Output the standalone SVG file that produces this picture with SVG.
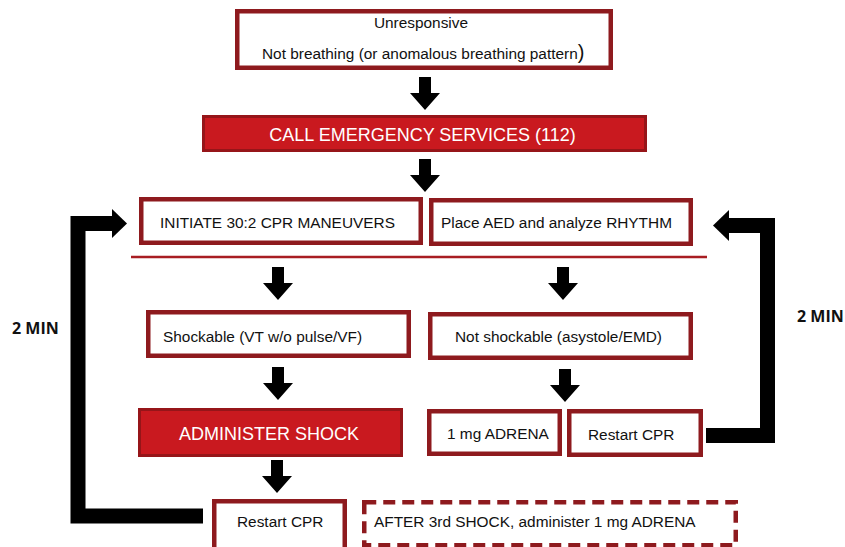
<svg xmlns="http://www.w3.org/2000/svg" width="845" height="547" viewBox="0 0 845 547">
<style>
.box{fill:#fff;stroke:#8e1a1e;stroke-width:4.5}
.dash{fill:#fff;stroke:#8e1a1e;stroke-width:4.5;stroke-dasharray:12 7}
.rbox{fill:#c9191f;stroke:#961519;stroke-width:3}
.t{font-family:"Liberation Sans",Arial,sans-serif;font-size:15.4px;fill:#111}
.tw{font-family:"Liberation Sans",Arial,sans-serif;font-size:18px;fill:#fff}
.min{font-family:"Open Sans","Liberation Sans",sans-serif;font-weight:700;font-size:16px;fill:#111}
.loop{fill:none;stroke:#000;stroke-width:15;stroke-linejoin:miter}
</style>
<defs>
<path id="dn" d="M-6,-33 H6 V-17 H15 L0,0 L-15,-17 H-6 Z" fill="#000"/>
</defs>
<rect width="845" height="547" fill="#fff"/>
<g id="connectors">
<use href="#dn" x="425" y="110"/>
<use href="#dn" x="425" y="192"/>
<use href="#dn" x="278" y="300"/>
<use href="#dn" x="563" y="300"/>
<use href="#dn" x="278" y="400"/>
<use href="#dn" x="565" y="402"/>
<use href="#dn" x="277" y="493"/>
<line x1="131" y1="257" x2="707" y2="257" stroke="#a81d22" stroke-width="2.5"/>
<path class="loop" d="M203,516 H78 V223.5 H113"/>
<polygon points="112,209 127,223.5 112,238" fill="#000"/>
<path class="loop" d="M706,435.5 H767.5 V225.5 H728"/>
<polygon points="729,210 713,225.5 729,241" fill="#000"/>
</g>
<g id="n-unresponsive">
<rect class="box" x="237.25" y="11.25" width="373.5" height="56.5"/>
<text class="t" x="421" y="28" text-anchor="middle">Unresponsive</text>
<text class="t" x="262" y="59">Not breathing (or anomalous breathing pattern<tspan font-size="20">)</tspan></text>
</g>
<g id="n-call">
<rect class="rbox" x="203.5" y="116.5" width="442" height="34"/>
<text class="tw" x="422.5" y="141" text-anchor="middle">CALL EMERGENCY SERVICES (112)</text>
</g>
<g id="n-initiate">
<rect class="box" x="141.25" y="199.25" width="279.5" height="43.5"/>
<text class="t" x="160" y="228">INITIATE 30:2 CPR MANEUVERS</text>
</g>
<g id="n-aed">
<rect class="box" x="431.25" y="200.25" width="259.5" height="43.5"/>
<text class="t" x="441" y="228">Place AED and analyze RHYTHM</text>
</g>
<g id="n-shockable">
<rect class="box" x="148.25" y="312.25" width="260.5" height="43.5"/>
<text class="t" x="163" y="342">Shockable (VT w/o pulse/VF)</text>
</g>
<g id="n-notshockable">
<rect class="box" x="430.25" y="314.25" width="260.5" height="43.5"/>
<text class="t" x="455" y="342">Not shockable (asystole/EMD)</text>
</g>
<g id="n-shock">
<rect class="rbox" x="139.5" y="409.5" width="262" height="46"/>
<text class="tw" x="269" y="440" text-anchor="middle">ADMINISTER SHOCK</text>
</g>
<g id="n-adrena">
<rect class="box" x="429.25" y="411.25" width="130.5" height="42.5"/>
<text class="t" x="447" y="439">1 mg ADRENA</text>
</g>
<g id="n-restart-right">
<rect class="box" x="569.25" y="411.25" width="131.5" height="43.5"/>
<text class="t" x="588" y="440">Restart CPR</text>
</g>
<g id="n-restart-bottom">
<rect class="box" x="214.25" y="501.25" width="130.5" height="50"/>
<text class="t" x="237" y="527">Restart CPR</text>
</g>
<g id="n-after">
<rect class="dash" x="364.25" y="502.25" width="371.5" height="43"/>
<text class="t" x="374" y="527">AFTER 3rd SHOCK, administer 1 mg ADRENA</text>
</g>
<g id="labels">
<text class="min" x="12" y="334">2 MIN</text>
<text class="min" x="797" y="322">2 MIN</text>
</g>
</svg>
